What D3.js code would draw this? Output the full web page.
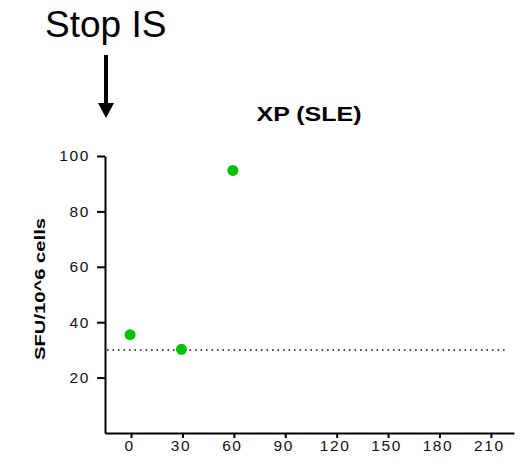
<!DOCTYPE html>
<html>
<head>
<meta charset="utf-8">
<script src="https://cdn.jsdelivr.net/npm/d3@7"></script>
<style>
  body { margin: 0; background: #fff; }
  svg { display: block; font-family: 'Liberation Sans', Arial, sans-serif; }
</style>
</head>
<body>
<svg width="522" height="464"></svg>
<script>
// Data
var days = [0, 30, 60]
var sfu = [35.5, 30.2, 94.8]
var cutoff = 30
var xTicks = [0, 30, 60, 90, 120, 150, 180, 210]
var yTicks = [20, 40, 60, 80, 100]
var title = 'XP (SLE)'
var yLabel = 'SFU/10^6 cells'
var note = 'Stop IS'

var svg = d3.select('svg')

// Scales
var x = d3.scaleLinear().domain([-15.2, 223.5]).range([105, 514])
var y = d3.scaleLinear().domain([0, 100]).range([433, 156])

// Axes (tickSize sets the outer size too, so zero it afterwards)
var yAxis = svg
  .append('g')
  .attr('transform', 'translate(' + x.range()[0] + ',0)')
  .call(
    d3
      .axisLeft(y)
      .tickValues(yTicks)
      .tickSize(8)
      .tickSizeOuter(0)
      .tickPadding(7)
  )

var xAxis = svg
  .append('g')
  .attr('transform', 'translate(0,' + y(0) + ')')
  .call(
    d3
      .axisBottom(x)
      .tickValues(xTicks)
      .tickSize(5)
      .tickSizeOuter(0)
      .tickPadding(2)
  )

svg
  .selectAll('.domain, .tick line')
  .style('stroke', '#000')
  .style('stroke-width', '2px')
svg
  .selectAll('.tick text')
  .style('font-family', "'Liberation Sans', Arial, sans-serif")
  .style('font-size', '15.5px')
  .style('fill', '#111')
  .style('letter-spacing', '1.6px')
xAxis.selectAll('.tick text').attr('dx', -2)

// cutoff line
svg
  .append('line')
  .attr('x1', x(-14))
  .attr('x2', x(219.5))
  .attr('y1', y(cutoff))
  .attr('y2', y(cutoff))
  .attr('stroke', '#000')
  .attr('stroke-width', 1.5)
  .attr('stroke-dasharray', '1.5,4')

// points
svg
  .append('g')
  .selectAll('circle')
  .data(days)
  .enter()
  .append('circle')
  .attr('cx', (d, i) => x(d) - 1)
  .attr('cy', (d, i) => y(sfu[i]))
  .attr('r', 5.5)
  .attr('fill', '#00c000')

// title
svg
  .append('text')
  .attr('x', 309)
  .attr('y', 121)
  .attr('text-anchor', 'middle')
  .attr('font-size', 20)
  .attr('font-weight', 'bold')
  .attr('textLength', 105)
  .attr('lengthAdjust', 'spacingAndGlyphs')
  .text(title)

// y label
svg
  .append('text')
  .attr('transform', 'translate(45,289) rotate(-90)')
  .attr('text-anchor', 'middle')
  .attr('font-size', 15)
  .attr('font-weight', 'bold')
  .attr('textLength', 142)
  .attr('lengthAdjust', 'spacingAndGlyphs')
  .text(yLabel)

// Stop IS note and arrow
svg
  .append('text')
  .attr('x', 45)
  .attr('y', 37)
  .attr('font-size', 37)
  .text(note)

svg
  .append('line')
  .attr('x1', 106)
  .attr('x2', 106)
  .attr('y1', 55)
  .attr('y2', 104)
  .attr('stroke', '#000')
  .attr('stroke-width', 4)

svg
  .append('path')
  .attr('d', 'M98,103L114,103L106,118Z')
  .attr('fill', '#000')
</script>
</body>
</html>
